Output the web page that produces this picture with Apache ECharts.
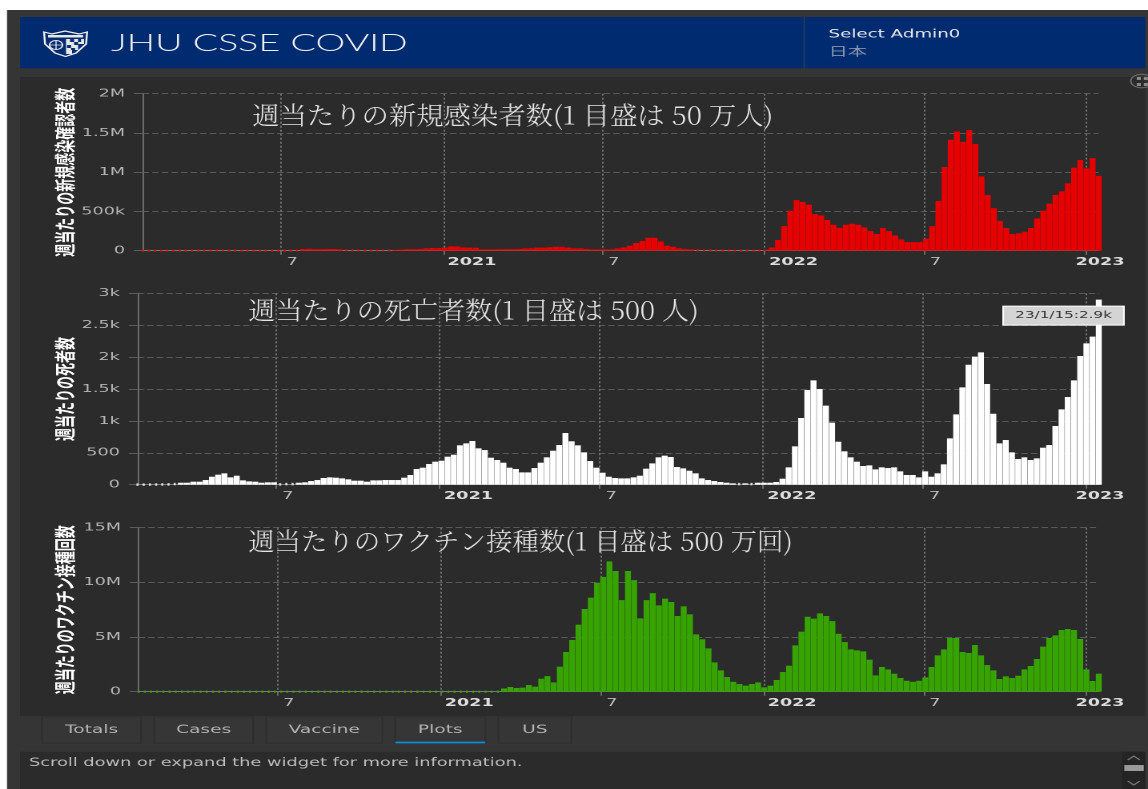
<!DOCTYPE html>
<html><head><meta charset="utf-8">
<style>html,body{margin:0;padding:0;background:#fff;overflow:hidden}
#c{position:absolute;left:0;top:0;width:717.5px;height:789px;transform:scaleX(1.6);transform-origin:0 0}</style>
<script src="https://cdn.jsdelivr.net/npm/echarts@6/dist/echarts.min.js"></script>
</head><body><div id="c"></div>
<script>
// weekly values (2020-01-26 ... 2023-01-15)
const firstWeek = Date.UTC(2020,0,26);
const weeklyCasesK = [0.1,0.1,0.2,0.3,0.4,0.4,0.5,0.6,1,1.5,2,3,4,4,3,2,1.5,1,0.5,0.4,0.3,0.3,0.4,0.6,1,1.5,
22,24,20,20,22,22,18,6,5,4,3,3,3,4,5,12,15,20,20,22,30,34,34,40,55,55,42,40,38,18,18,18,20,20,20,
22,30,30,40,40,45,50,50,40,30,30,21,17,17,17,17,30,42,64,98,123,166,166,119,64,51,30,21,17,8,5,4,3,2,2,1,1,1,1,2,13,
42,136,314,510,645,620,586,467,450,391,331,289,331,344,331,297,250,212,289,250,195,144,110,110,110,153,314,633,1066,1414,
1520,1388,1537,1359,947,709,543,378,289,212,221,242,289,412,510,599,709,756,858,1057,1155,1049,1180,955];
const weeklyDeaths = [1,1,2,3,4,5,10,31,31,47,47,73,125,157,178,115,141,68,52,47,31,37,37,5,10,10,31,37,57,73,105,115,110,99,84,63,63,47,68,68,
73,73,73,110,152,246,267,324,361,376,439,470,617,648,685,570,543,423,387,345,267,246,193,193,261,345,429,533,622,810,680,617,507,371,267,188,125,105,99,99,
115,141,251,334,429,455,434,277,256,219,178,99,73,57,42,31,21,10,21,10,31,31,31,42,94,272,601,1045,1484,1636,1500,1239,972,674,523,429,361,293,303,240,
272,261,272,209,152,152,115,209,125,178,319,726,1103,1526,1881,2007,2075,1578,1113,648,700,507,402,429,387,413,580,622,920,1181,1374,1636,2017,2216,2320,2900];
const weeklyVaccineM = [0,0,0,0,0,0,0,0,0,0,0,0,0,0,0,0,0,0,0,0,0,0,0,0,0,0,0,0,0,0,0,0,0,0,0,0,0,0,0,0,0,0,0,0,0,0,0,0,0,0,0,0,0,0,0,0,0,0,0,
.30,.43,.34,.37,.61,.46,1.19,1.43,.85,2.29,3.63,4.73,6.13,7.56,8.60,9.97,10.5,11.92,11.04,8.38,11.04,10.2,6.71,8.38,9.02,7.90,8.51,8.20,6.92,7.80,7.07,5.24,4.79,3.96,2.68,1.95,1.34,.91,.70,.55,.70,.85,.40,.55,1.07,1.80,2.38,4.24,5.49,6.86,6.68,7.16,6.92,6.46,5.30,4.54,3.87,3.78,3.69,2.93,1.49,2.26,2.04,1.65,1.25,1.0,.91,1.0,1.31,2.26,3.32,3.87,4.91,4.91,3.63,3.54,4.27,3.32,2.44,1.95,1.16,1.40,1.25,1.46,2.04,2.35,2.99,4.12,4.91,5.15,5.64,5.73,5.64,4.82,2.04,.98,1.65];
const xTickDates = [Date.UTC(2020,6,1),Date.UTC(2021,0,1),Date.UTC(2021,6,1),Date.UTC(2022,0,1),Date.UTC(2022,6,1),Date.UTC(2023,0,1)];
const yNames = ['週当たりの新規感染確認者数','週当たりの死者数','週当たりのワクチン接種回数'];
const titles = ['週当たりの新規感染者数(1 目盛は 50 万人)','週当たりの死亡者数(1 目盛は 500 人)','週当たりのワクチン接種数(1 目盛は 500 万回)'];
const tabs = ['Totals','Cases','Vaccine','Plots','US'];
const colors = ['#e60000','#ffffff','#37a300'];

[weeklyCasesK,weeklyDeaths,weeklyVaccineM].forEach(a=>{ if(a.length!==156) throw new Error('len '+a.length); });

const S = 1.6, X = v => v/S;
const weekMs = 7*864e5;
const dates = weeklyDeaths.map((_,i)=>firstWeek+i*weekMs);
const lastDate = dates[dates.length-1];
const grids = [
 {l:142.5,r:1098,t:93.7,b:250.7},
 {l:137.4,r:1098,t:293.3,b:484.7},
 {l:138.5,r:1098,t:527.7,b:691.7}];
const yMax=[2e6,3000,15e6], yStep=[5e5,500,5e6];
const fmtY = v => v>=1e6 ? (v/1e6)+'M' : v>=1e3 ? (v/1e3)+'k' : String(v);
const seriesValues = [weeklyCasesK.map(v=>v*1e3), weeklyDeaths, weeklyVaccineM.map(v=>v*1e6)];

const rect=(x1,y1,x2,y2,fill,extra)=>Object.assign({type:'rect',silent:true,z:-5,shape:{x:X(x1),y:y1,width:X(x2-x1),height:y2-y1},style:{fill}},extra||{});
const txt=(text,x,y,size,fill,o)=>{o=o||{};return {type:'text',silent:true,z:o.z||5,x:X(x),y:y,scaleX:o.sx||1,style:{text,fill,font:(o.weight||'normal')+' '+size+'px '+(o.family||'"DejaVu Sans"'),textAlign:o.align||'left',textVerticalAlign:'middle'}};};
const line=(pts,stroke,w)=>({type:'polyline',silent:true,z:5,shape:{points:pts.map(p=>[X(p[0]),p[1]])},style:{stroke,lineWidth:w||1,fill:null}});

const chrome=[
 rect(7,10,1148,789,'#353535',{z:-9}),
 rect(20,17,1144.5,68.3,'#002b70'),
 rect(803,17,804.2,68.3,'#2a3f63',{z:-4}),
 rect(20,77,1144.5,716,'#2b2b2b'),
 rect(20,751.7,1144.5,789,'#2b2b2b'),
 rect(1121.5,751.7,1144.5,789,'#242424',{z:-4}),
 rect(1123.5,765,1143,771,'#9a9a9a',{z:-3}),
 line([[1127,760],[1133,756],[1139,760]],'#777',1),
 line([[1127,781],[1133,785],[1139,781]],'#777',1),
 txt('JHU CSSE COVID',111,43.5,23.5,'#f2f2f2',{family:'Lato',weight:'300'}),
 txt('Select Admin0',828,34.5,11.4,'#e8e8e8'),
 txt('日本',828,51,12,'#8795ad',{family:'"Noto Sans CJK JP"'}),
 // logo
 {type:'polygon',silent:true,z:4,shape:{points:[[44,32],[52,34],[65,31],[79,34],[87,32],[86,44],[76,53],[65.5,56.5],[55,53],[45,44]].map(p=>[X(p[0]),p[1]])},style:{fill:'#002b70',stroke:'#f0f0f0',lineWidth:1.2}},
 rect(48,35,83,37.5,'#e8e8e8',{z:5}),
 rect(66,39,84,44,'#e8e8e8',{z:5}),rect(66,44,78,50,'#e8e8e8',{z:5}),rect(66,50,72,54,'#e8e8e8',{z:5}),
 rect(70,39,74,42,'#002b70',{z:6}),rect(78,39,81,42,'#002b70',{z:6}),rect(74,42,78,45,'#002b70',{z:6}),rect(67,45,71,48,'#002b70',{z:6}),rect(71,48,75,50,'#002b70',{z:6}),
 {type:'ellipse',silent:true,z:5,shape:{cx:X(56),cy:45,rx:X(6.5),ry:4.5},style:{fill:'none',stroke:'#e8e8e8',lineWidth:1}},
 line([[50,45],[62,45]],'#e8e8e8',.7),line([[56,41],[56,49]],'#e8e8e8',.7),
 // expand icon
 {type:'ellipse',silent:true,z:5,shape:{cx:X(1141),cy:81,rx:X(11),ry:6.8},style:{fill:'none',stroke:'#6f6f6f',lineWidth:1}},
 rect(1136,77,1140,80,'#8a8a8a',{z:6}),rect(1143,77,1147,80,'#8a8a8a',{z:6}),rect(1136,83,1140,86,'#8a8a8a',{z:6}),rect(1143,83,1147,86,'#8a8a8a',{z:6}),
 txt('Scroll down or expand the widget for more information.',29,763,11.1,'#bdbdbd')
];
const tabBoxes=[[42,141],[154,253],[266,382],[395,485],[498,571]];
tabs.forEach((t,i)=>{
  const b=tabBoxes[i];
  chrome.push(rect(b[0],717,b[1],743,'#363636',{z:-4,style:{fill:'#363636',stroke:'#2e2e2e',lineWidth:1}}));
  chrome.push(txt(t,(b[0]+b[1])/2,730,11.6,'#b4b4b4',{align:'center'}));
});
chrome.push(rect(395,741.6,485,743.4,'#0a8edb',{z:-3}));
const titleSpots=[[252,115,1.012],[248,310,1.004],[248,541,0.978]];
titleSpots.forEach((p,i)=>chrome.push(txt(titles[i],p[0],p[1],25,'#e4e4e4',{family:'"Noto Serif CJK JP","Noto Sans CJK JP"',weight:'300',sx:1.08*p[2]/S,z:8})));

const axisCol='#6a6a6a';
const labelRich={
  y:{color:'#dedede',fontWeight:'bold',fontSize:11,fontFamily:'DejaVu Sans',padding:[0,0,0,36]},
  last:{color:'#dedede',fontWeight:'bold',fontSize:11,fontFamily:'DejaVu Sans',padding:[0,0,0,17]},
  m:{color:'#bdbdbd',fontSize:11,fontFamily:'DejaVu Sans',padding:[0,0,0,14]}};
const tinyLimit = i => yMax[i]*0.005;
const series=[];
seriesValues.forEach((vals,i)=>{
  series.push({
   type:'bar',xAxisIndex:i,yAxisIndex:i,clip:false,barWidth:3.7,
   itemStyle:{color:colors[i]},silent:true,z:2,
   data:vals.map((v,k)=>{
     if(i===1 && k===vals.length-1) return {value:[dates[k],v],label:{show:true,position:'top',distance:0,offset:[-22,25],
        formatter:'23/1/15:2.9k',color:'#333',fontSize:9.5,fontFamily:'DejaVu Sans',backgroundColor:'#d4d4d4',borderColor:'#fff',borderWidth:1,padding:[4,7]}};
     return v<tinyLimit(i) ? [dates[k],null] : [dates[k],v];
   })
  });
  // weeks too small to show a bar appear as small ticks on the baseline
  series.push({
   type:'scatter',xAxisIndex:i,yAxisIndex:i,clip:false,silent:true,z:3,symbol:'rect',symbolSize:[1.3,2.5],
   itemStyle:{color:colors[i]},
   data:vals.map((v,k)=>[dates[k],v]).filter(d=>d[1]<tinyLimit(i))
  });
});
const option={
 animation:false, backgroundColor:'#ffffff',
 graphic:{elements:chrome},
 grid:grids.map(g=>({left:X(g.l),width:X(g.r-g.l),top:g.t,height:g.b-g.t,containLabel:false})),
 xAxis:grids.map((g,i)=>({
   type:'value',gridIndex:i,min:firstWeek,max:lastDate,scale:true,
   axisLine:{show:true,onZero:false,lineStyle:{color:'#7a7a7a',width:1}},
   axisTick:{show:true,length:4,customValues:xTickDates,lineStyle:{color:axisCol}},
   splitLine:{show:true,lineStyle:{color:'#707070',type:[2,2],width:1}},
   axisLabel:{show:true,customValues:xTickDates,align:'center',margin:6,hideOverlap:false,
     formatter:v=>{const d=new Date(v),yr=d.getUTCFullYear();return d.getUTCMonth()===0?(yr===2023?'{last|':'{y|')+yr+'}':'{m|7}';},
     rich:labelRich}
 })),
 yAxis:grids.map((g,i)=>({
   type:'value',gridIndex:i,min:0,max:yMax[i],interval:yStep[i],
   name:yNames[i],nameLocation:'middle',nameRotate:90,nameGap:X(g.l-75),nameMoveOverlap:false,
   nameTextStyle:{color:'#ffffff',fontWeight:'bold',fontSize:13,fontFamily:'Noto Sans CJK JP'},
   axisLine:{show:true,lineStyle:{color:axisCol}},
   axisTick:{show:true,length:5.5,lineStyle:{color:'#5c5c5c'}},
   splitLine:{show:true,lineStyle:{color:'#585858',type:'dashed',width:1}},
   axisLabel:{color:'#b4b4b4',fontSize:11,fontFamily:'DejaVu Sans',margin:11,formatter:fmtY}
 })),
 series
};
const chart=echarts.init(document.getElementById('c'),null,{width:717.5,height:789,devicePixelRatio:2});
chart.setOption(option);
</script></body></html>
